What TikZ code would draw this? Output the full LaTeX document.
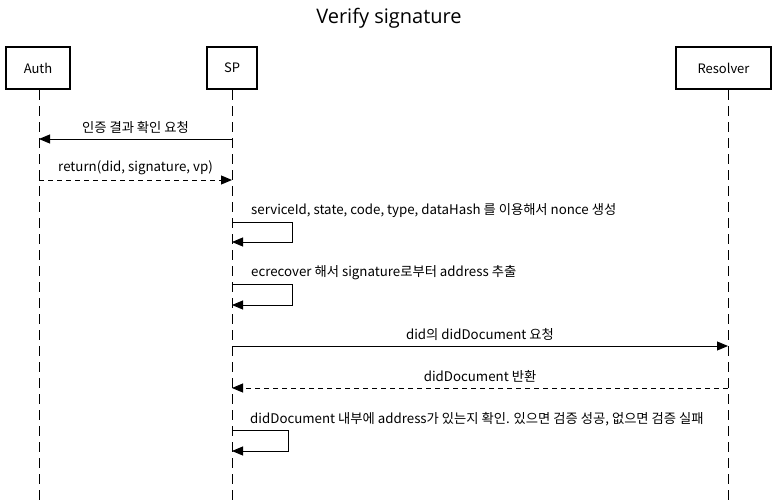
\documentclass[tikz,border=0pt]{standalone}
\usepackage{fontspec}
\setmainfont{Noto Sans CJK KR}
\newfontfamily\titlefont{Open Sans}
\usetikzlibrary{arrows.meta}
\tikzset{
  actor/.style={draw, line width=2.4pt, minimum height=42pt, inner sep=0pt, font=\fontsize{13}{15}\selectfont},
  lifeline/.style={line width=0.9pt, dash pattern=on 10pt off 6pt},
  msg/.style={line width=0.9pt, -{Triangle[length=11pt,width=9pt]}},
  reply/.style={msg, dash pattern=on 5pt off 4pt},
  lbl/.style={font=\fontsize{13.3}{15}\selectfont, inner sep=0pt},
  ttl/.style={font=\titlefont\fontsize{20}{24}\selectfont, inner sep=0pt},
}
\begin{document}
\begin{tikzpicture}[x=1pt,y=-1pt]
\useasboundingbox (0,0) rectangle (777,503);
\node[ttl] (title) at (389,18) {Verify signature};
\node[actor, minimum width=64pt] (auth) at (38,68) {Auth};
\node[actor, minimum width=50pt] (sp) at (232,68) {SP};
\node[actor, minimum width=95pt] (res) at (723.5,68) {Resolver};
\coordinate (authend) at (39,503);
\coordinate (spend) at (232,503);
\coordinate (resend) at (728,503);
\draw[lifeline] (auth.south -| authend) -- (authend);
\draw[lifeline] (sp.south) -- (spend);
\draw[lifeline] (res.south -| resend) -- (resend);
% messages
\coordinate (m1s) at (232,139); \coordinate (m1e) at (39,139);
\draw[msg] (m1s) -- node[lbl, above=5pt] (t1) {인증 결과 확인 요청} (m1e);
\coordinate (m2s) at (39,180); \coordinate (m2e) at (232,180);
\draw[reply] (m2s) -- node[lbl, above=5pt] (t2) {return(did, signature, vp)} (m2e);
% self 1
\coordinate (s1a) at (232,222); \coordinate (s1b) at (292,222); \coordinate (s1c) at (292,242); \coordinate (s1d) at (232,242);
\draw[msg] (s1a) -- (s1b) -- (s1c) -- (s1d);
\node[lbl, anchor=west] (t3) at (251,211) {serviceId, state, code, type, dataHash 를 이용해서 nonce 생성};
% self 2
\coordinate (s2a) at (232,284); \coordinate (s2b) at (292,284); \coordinate (s2c) at (292,305); \coordinate (s2d) at (232,305);
\draw[msg] (s2a) -- (s2b) -- (s2c) -- (s2d);
\node[lbl, anchor=west] (t4) at (251,273) {ecrecover 해서 signature로부터 address 추출};
% did request
\coordinate (m3s) at (232,346); \coordinate (m3e) at (728,346);
\draw[msg] (m3s) -- node[lbl, above=5pt] (t5) {did의 didDocument 요청} (m3e);
\coordinate (m4s) at (728,388); \coordinate (m4e) at (232,388);
\draw[reply] (m4s) -- node[lbl, above=5pt] (t6) {didDocument 반환} (m4e);
% self 3
\coordinate (s3a) at (232,430); \coordinate (s3b) at (288,430); \coordinate (s3c) at (288,451); \coordinate (s3d) at (232,451);
\draw[msg] (s3a) -- (s3b) -- (s3c) -- (s3d);
\node[lbl, anchor=west] (t7) at (250,419) {didDocument 내부에 address가 있는지 확인. 있으면 검증 성공, 없으면 검증 실패};
\end{tikzpicture}
\end{document}
